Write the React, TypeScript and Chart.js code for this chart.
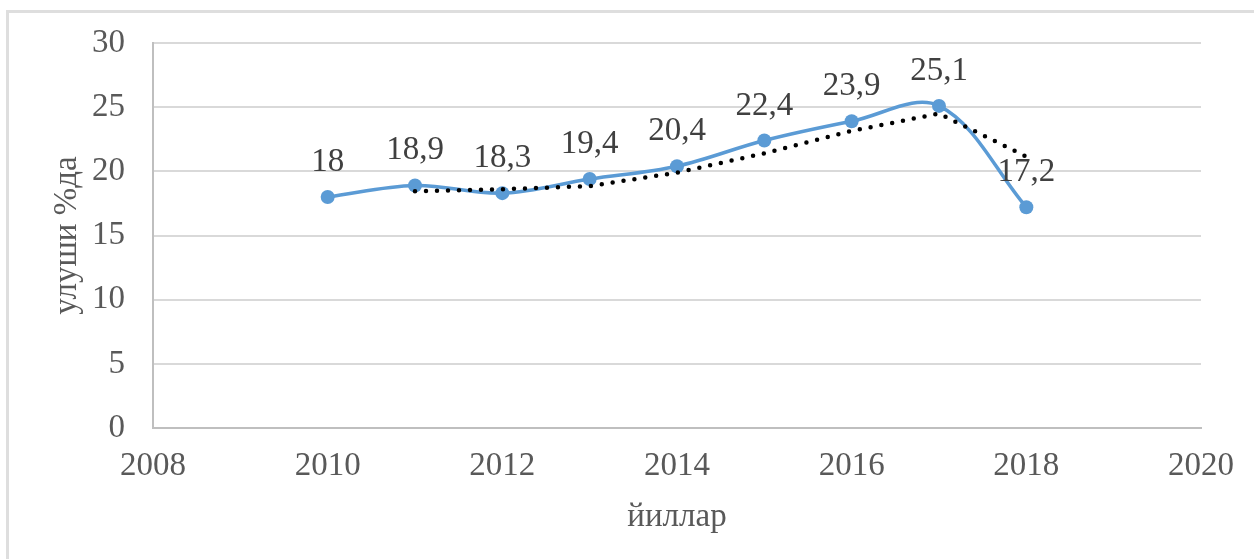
import React, { useEffect, useRef } from "react";
import { Chart, registerables } from "chart.js";

Chart.register(...registerables);

// ---- data ----
const years = [2010, 2011, 2012, 2013, 2014, 2015, 2016, 2017, 2018];
const shares = [18, 18.9, 18.3, 19.4, 20.4, 22.4, 23.9, 25.1, 17.2];
const trendYears = [2011, 2012, 2013, 2014, 2015, 2016, 2017, 2018];
const trendValues = [18.45, 18.6, 18.85, 19.9, 21.4, 23.15, 24.5, 21.15];
const xTickValues = [2008, 2010, 2012, 2014, 2016, 2018, 2020];
const yTickValues = [0, 5, 10, 15, 20, 25, 30];
const xTitle = "йиллар";
const yTitle = "улуши %да";

const FONT = '"Liberation Serif", "Times New Roman", serif';
const TEXT = "#595959";

const valueLabels = {
  id: "valueLabels",
  afterDatasetsDraw(chart: any) {
    const meta = chart.getDatasetMeta(1);
    const ctx = chart.ctx;
    ctx.save();
    ctx.font = `33px ${FONT}`;
    ctx.fillStyle = "#404040";
    ctx.textAlign = "center";
    ctx.textBaseline = "alphabetic";
    meta.data.forEach((el: any, i: number) => {
      ctx.fillText(String(shares[i]).replace(".", ","), el.x, el.y - 26);
    });
    ctx.restore();
  },
};

export default function App() {
  const ref = useRef<HTMLCanvasElement | null>(null);

  useEffect(() => {
    if (!ref.current) return;
    const chart = new Chart(ref.current, {
      type: "scatter",
      data: {
        datasets: [
          {
            label: "trend",
            data: trendYears.map((x, i) => ({ x, y: trendValues[i] })),
            showLine: true,
            borderColor: "#000000",
            borderWidth: 4.5,
            borderDash: [0, 11],
            borderCapStyle: "round",
            pointRadius: 0,
            tension: 0,
          },
          {
            label: "share",
            data: years.map((x, i) => ({ x, y: shares[i] })),
            showLine: true,
            borderColor: "#5b9bd5",
            backgroundColor: "#5b9bd5",
            borderWidth: 3.5,
            pointRadius: 7,
            pointBorderWidth: 0,
            pointBackgroundColor: "#5b9bd5",
            tension: 0.35,
          },
        ],
      },
      options: {
        animation: false,
        responsive: false,
        devicePixelRatio: 1,
        layout: { padding: { left: 0, top: 43, right: 53, bottom: 0 } },
        plugins: {
          legend: { display: false },
          tooltip: { enabled: false },
        },
        scales: {
          x: {
            type: "linear",
            min: 2008,
            max: 2020,
            afterBuildTicks: (s: any) => {
              s.ticks = xTickValues.map((v) => ({ value: v }));
            },
            afterFit: (s: any) => {
              s.height = 131;
            },
            ticks: {
              font: { family: FONT, size: 33 },
              color: TEXT,
              padding: 19,
              maxRotation: 0,
              callback: (v: any) => String(v),
            },
            grid: { display: false, drawTicks: false },
            border: { display: true, color: "#bfbfbf", width: 2 },
            title: {
              display: true,
              text: xTitle,
              font: { family: FONT, size: 33 },
              color: TEXT,
              padding: { top: 0, bottom: 22 },
            },
          },
          y: {
            type: "linear",
            min: 0,
            max: 30,
            afterBuildTicks: (s: any) => {
              s.ticks = yTickValues.map((v) => ({ value: v }));
            },
            afterFit: (s: any) => {
              s.width = 153;
            },
            ticks: {
              font: { family: FONT, size: 33, lineHeight: 0.5 },
              color: TEXT,
              padding: 28,
              callback: (v: any) => String(v),
            },
            grid: { color: "#d9d9d9", lineWidth: 2, drawTicks: false },
            border: { display: true, color: "#bfbfbf", width: 2 },
            title: {
              display: true,
              text: yTitle,
              font: { family: FONT, size: 33 },
              color: TEXT,
              padding: { top: 48, bottom: 0 },
            },
          },
        },
      },
      plugins: [valueLabels],
    });
    return () => chart.destroy();
  }, []);

  return (
    <div>
      <div
        style={{
          position: "fixed",
          left: 6,
          top: 10,
          width: 1400,
          height: 800,
          borderLeft: "3px solid #dedede",
          borderTop: "3px solid #dedede",
          boxSizing: "border-box",
        }}
      />
      <canvas
        ref={ref}
        width={1254}
        height={559}
        style={{ position: "fixed", left: 0, top: 0, display: "block" }}
      />
    </div>
  );
}
